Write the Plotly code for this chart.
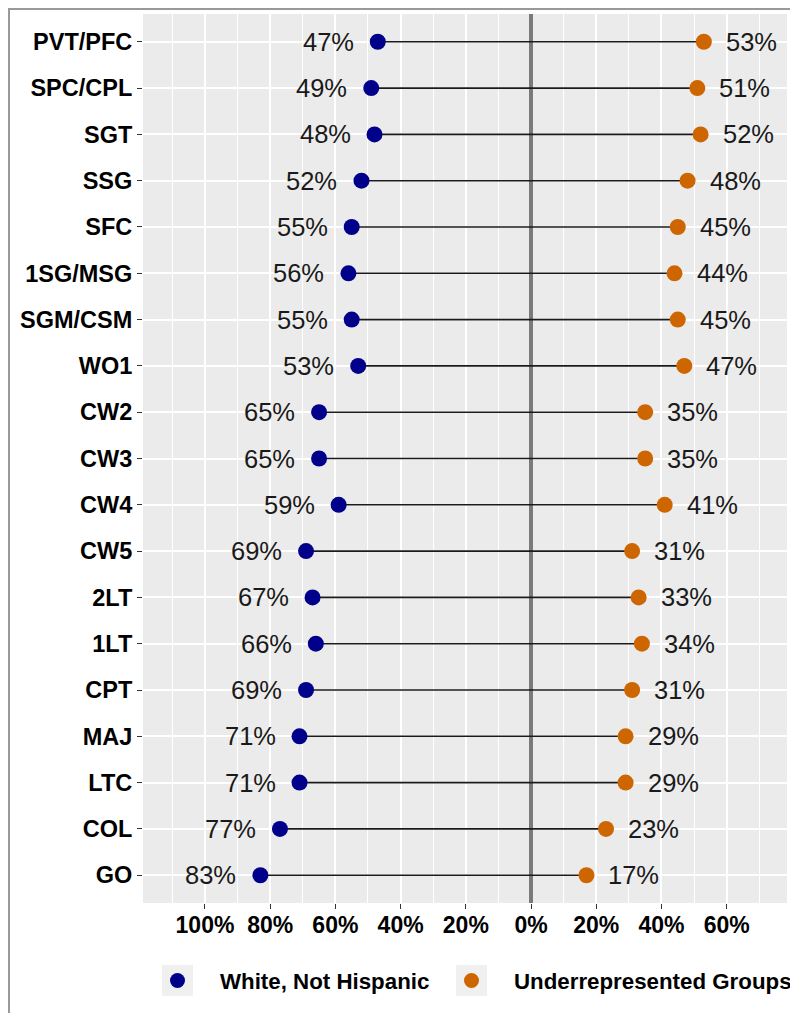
import plotly.graph_objects as go

categories = ["PVT/PFC", "SPC/CPL", "SGT", "SSG", "SFC", "1SG/MSG", "SGM/CSM", "WO1",
              "CW2", "CW3", "CW4", "CW5", "2LT", "1LT", "CPT", "MAJ", "LTC", "COL", "GO"]
white_pct = [47, 49, 48, 52, 55, 56, 55, 53, 65, 65, 59, 69, 67, 66, 69, 71, 71, 77, 83]
urg_pct = [53, 51, 52, 48, 45, 44, 45, 47, 35, 35, 41, 31, 33, 34, 31, 29, 29, 23, 17]
tick_vals = [-1.0, -0.8, -0.6, -0.4, -0.2, 0.0, 0.2, 0.4, 0.6]
tick_text = ["100%", "80%", "60%", "40%", "20%", "0%", "20%", "40%", "60%"]
legend_names = ["White, Not Hispanic", "Underrepresented Groups"]

NAVY = "#00008B"
ORANGE = "#CD6600"
FONT = "Liberation Sans, Arial, sans-serif"

# page body has an 8px margin: build the figure 8px smaller and shift targets
OFF = 8
W, H = 798 - OFF, 1013 - OFF
ML = 143 - OFF
MT = 14 - OFF
MR = W - (787 - OFF)
MB = H - (903 - OFF)
PW, PH = W - ML - MR, H - MT - MB


def px(x):
    return (x - OFF - ML) / PW


def py(y):
    return (H - MB - (y - OFF)) / PH


fig = go.Figure()

seg_x, seg_y = [], []
for c, w, u in zip(categories, white_pct, urg_pct):
    seg_x += [-w / 100, u / 100, None]
    seg_y += [c, c, None]
fig.add_trace(go.Scatter(x=seg_x, y=seg_y, mode="lines",
                         line=dict(color="#1a1a1a", width=1.6),
                         showlegend=False, hoverinfo="skip"))

fig.add_trace(go.Scatter(x=[-w / 100 for w in white_pct], y=categories, mode="markers",
                         marker=dict(color=NAVY, size=16), name=legend_names[0],
                         showlegend=False))
fig.add_trace(go.Scatter(x=[u / 100 for u in urg_pct], y=categories, mode="markers",
                         marker=dict(color=ORANGE, size=16), name=legend_names[1],
                         showlegend=False))

for c, w, u in zip(categories, white_pct, urg_pct):
    fig.add_annotation(x=-w / 100, y=c, text=f"{w}%", showarrow=False,
                       xanchor="right", yanchor="middle", xshift=-22,
                       font=dict(family=FONT, size=25.5, color="#1a1a1a"))
    fig.add_annotation(x=u / 100, y=c, text=f"{u}%", showarrow=False,
                       xanchor="left", yanchor="middle", xshift=20,
                       font=dict(family=FONT, size=25.5, color="#1a1a1a"))

# custom legend (ggplot style keys)
shapes = []
key_left = [162, 456]
text_left = [218, 512]
colors = [NAVY, ORANGE]
for kl, col in zip(key_left, colors):
    shapes.append(dict(type="rect", xref="paper", yref="paper",
                       x0=px(kl), x1=px(kl + 31), y0=py(996), y1=py(965),
                       fillcolor="#F0F0F0", line=dict(width=0), layer="above"))
    cx, cy = kl + 15.5, 980.5
    shapes.append(dict(type="circle", xref="paper", yref="paper",
                       x0=px(cx - 7.5), x1=px(cx + 7.5), y0=py(cy + 7.5), y1=py(cy - 7.5),
                       fillcolor=col, line=dict(width=0), layer="above"))
for tl, name in zip(text_left, legend_names):
    fig.add_annotation(xref="paper", yref="paper", x=px(tl), y=py(981), text=name,
                       showarrow=False, xanchor="left", yanchor="middle",
                       font=dict(family=FONT, size=22.3, color="black", weight="bold"))

# outer border
shapes.append(dict(type="rect", xref="paper", yref="paper",
                   x0=px(9), x1=px(795), y0=py(1030), y1=py(9),
                   line=dict(color="#999999", width=2), fillcolor="rgba(0,0,0,0)",
                   layer="above"))

fig.update_layout(
    width=W, height=H,
    margin=dict(l=ML, r=MR, t=MT, b=MB),
    paper_bgcolor="white", plot_bgcolor="#EBEBEB",
    showlegend=False,
    shapes=shapes,
    font=dict(family=FONT),
    xaxis=dict(range=[-1.19, 0.785], tickvals=tick_vals, ticktext=tick_text,
               showgrid=True, gridcolor="white", gridwidth=2,
               minor=dict(dtick=0.1, tick0=0, showgrid=True, gridcolor="white", gridwidth=1),
               zeroline=True, zerolinecolor="#7a7a7a", zerolinewidth=4,
               ticks="outside", ticklen=5, tickcolor="#333333", tickwidth=1,
               ticklabelstandoff=-4,
               tickfont=dict(family=FONT, size=23, color="black", weight="bold"),
               showline=False, fixedrange=True),
    yaxis=dict(categoryorder="array", categoryarray=categories,
               range=[18.6, -0.6],
               showgrid=True, gridcolor="white", gridwidth=2,
               zeroline=False,
               ticks="outside", ticklen=5, tickcolor="#333333", tickwidth=1,
               tickfont=dict(family=FONT, size=23.5, color="black", weight="bold"),
               showline=False, fixedrange=True),
)

fig.write_html("out.html")
